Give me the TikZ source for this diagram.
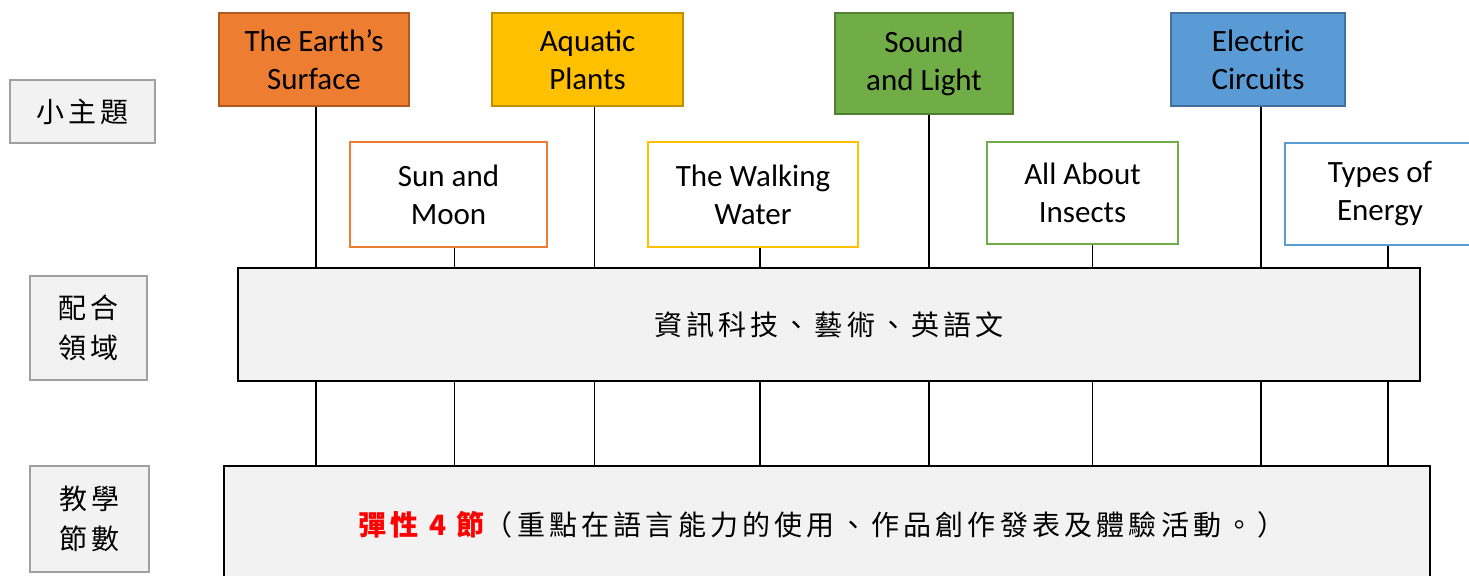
\documentclass[tikz,border=0pt]{standalone}
\usepackage{fontspec}
\setmainfont{Carlito}
\newfontfamily\cjk[LetterSpace=15]{Noto Sans CJK TC}
\usetikzlibrary{positioning}
\definecolor{orangef}{HTML}{ED7D31}
\definecolor{oranged}{HTML}{AE5A21}
\definecolor{goldf}{HTML}{FFC000}
\definecolor{goldd}{HTML}{BF9000}
\definecolor{greenf}{HTML}{70AD47}
\definecolor{greend}{HTML}{507E32}
\definecolor{bluef}{HTML}{5B9BD5}
\definecolor{blued}{HTML}{41719C}
\definecolor{panel}{HTML}{F2F2F2}
\definecolor{frame}{HTML}{A0A0A0}

\begin{document}
\begin{tikzpicture}[x=0.5pt,y=-0.5pt]
\tikzset{
  topic/.style={draw, line width=1pt, minimum width=#1, align=center,
    font=\fontsize{15.5}{19}\selectfont, inner sep=0pt},
  label/.style={draw=frame, fill=panel, line width=1.4pt, align=center,
    font=\cjk\fontsize{14}{20}\selectfont, inner sep=0pt},
  band/.style={draw=black, fill=panel, line width=1.3pt, inner sep=0pt,
    font=\cjk\fontsize{14}{20}\selectfont},
  link/.style={line width=0.8pt}
}
\useasboundingbox (0,0) rectangle (1469,576);

% left labels
\node[label, minimum width=72.5pt, minimum height=31.5pt] (lsub) at (82.5,111.5) {小主題};
\node[label, minimum width=58.5pt, minimum height=52pt] (lfield) at (88.5,328) {配合\\領域};
\node[label, minimum width=59.5pt, minimum height=53pt] (lhours) at (89.5,519) {教學\\節數};

% bands
\node[band, minimum width=591pt, minimum height=56.5pt] (mid) at (829,324.5) {資訊科技、藝術、英語文};
\node[band, minimum width=603pt, minimum height=62pt] (bot) at (827,528) {};
\node[font=\cjk\fontsize{14}{20}\selectfont, inner sep=0pt] (bottext) at (822,525)
  {\textcolor{red}{\bfseries 彈性 4 節}（重點在語言能力的使用、作品創作發表及體驗活動。）};

% top row
\node[topic=95pt, fill=orangef, draw=oranged, minimum height=46.5pt] (earth) at (314,59.5) {The Earth’s\\Surface};
\node[topic=95.5pt, fill=goldf, draw=goldd, minimum height=46.5pt] (aqua) at (587.5,59.5) {Aquatic\\Plants};
\node[topic=89pt, fill=greenf, draw=greend, minimum height=50.5pt] (sound) at (924,63.5) {Sound\\and Light};
\node[topic=87pt, fill=bluef, draw=blued, minimum height=46.5pt] (elec) at (1258,59.5) {Electric\\Circuits};

% second row
\node[topic=98.5pt, draw=orangef, fill=white, minimum height=52.5pt] (sun) at (448.5,194.5) {Sun and\\Moon};
\node[topic=105pt, draw=goldf, fill=white, minimum height=52.5pt] (walk) at (753,194.5) {The Walking\\Water};
\node[topic=95.5pt, draw=greenf, fill=white, minimum height=51pt] (insect) at (1082.5,193) {All About\\Insects};
\node[topic=95pt, draw=bluef, fill=white, minimum height=51pt] (energy) at (1380,194) {Types of\\Energy};

% connectors
\foreach \n/\d in {earth/2,sun/6,aqua/7,walk/7,sound/5,insect/10,elec/3,energy/8}{
  \draw[link] ([xshift=\d*0.5pt]\n.south) -- ([xshift=\d*0.5pt]\n.south |- mid.north);
  \draw[link] ([xshift=\d*0.5pt]\n.south |- mid.south) -- ([xshift=\d*0.5pt]\n.south |- bot.north);
}
\end{tikzpicture}
\end{document}
